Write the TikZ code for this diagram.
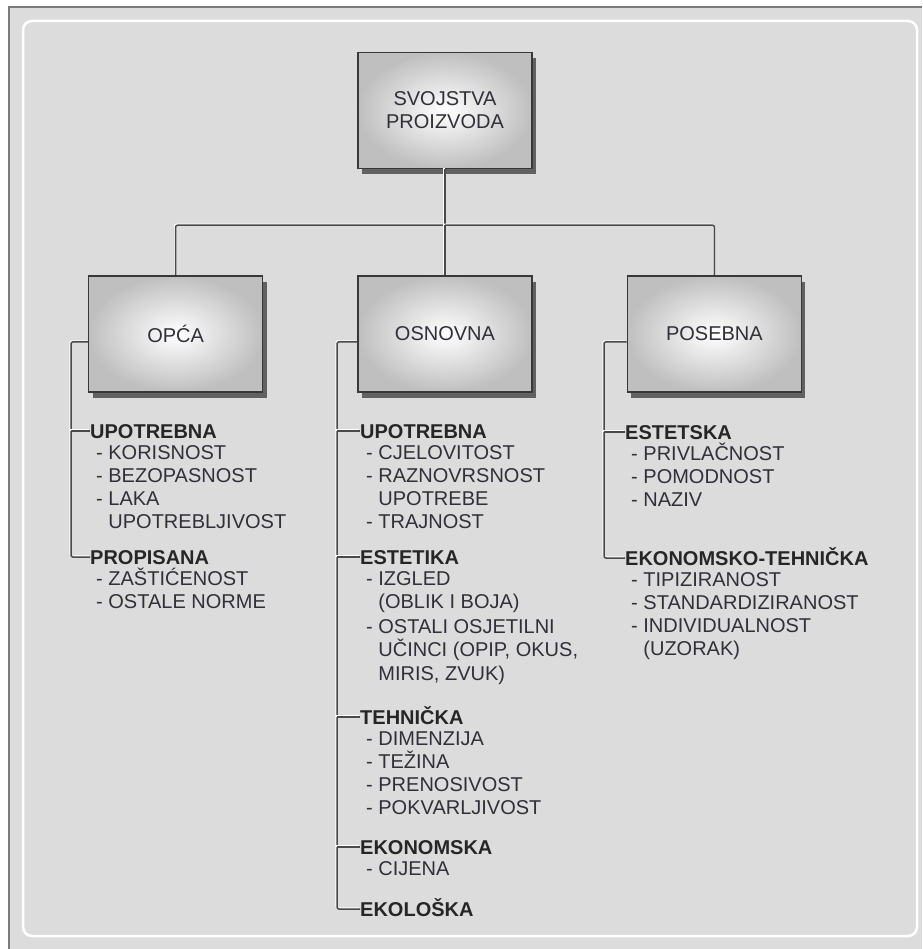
\documentclass[tikz,border=0pt]{standalone}
\usepackage{fontspec}
\setmainfont{Liberation Sans}
\usepackage{xcolor}
\usepackage{tikz}
\usetikzlibrary{shapes,positioning,shadows}

\definecolor{bggray}{HTML}{DCDCDC}
\definecolor{framegray}{HTML}{7A7A7A}
\definecolor{linegray}{HTML}{4A4A4A}
\definecolor{txtgray}{HTML}{30303A}

\newcommand{\crt}{\rule{0pt}{19pt}-\ }
\newcommand{\nst}{\rule{0pt}{19pt}\hphantom{-\ }}

\begin{document}
\begin{tikzpicture}[
    x=1pt, y=-1pt,
    node distance=106pt and 94pt,
    box/.style={rectangle, draw=black!78, line width=1.4pt, minimum width=174pt, minimum height=116pt, align=center,
        shading=radial, inner color=white, outer color=black!25,
        drop shadow={shadow xshift=4pt, shadow yshift=-6pt, opacity=1, fill=black!62},
        text=txtgray, font=\fontsize{20}{23}\selectfont},
    head/.style={anchor=west, inner sep=0pt, text height=15pt, text depth=0pt, text=black!85, font=\fontsize{20}{23}\selectfont\bfseries},
    list/.style={anchor=north west, inner sep=0pt, align=left, text=txtgray, font=\fontsize{20}{23}\selectfont},
    tree/.style={draw=linegray, line width=1.5pt, rounded corners=2pt,
        preaction={draw=white, line width=1.2pt, transform canvas={xshift=-1pt, yshift=1pt}}},
]
    \useasboundingbox (0,0) rectangle (922,949);
    \fill[white] (0,0) rectangle (922,949);
    \fill[bggray] (9,7) rectangle (922,949);
    \draw[framegray, line width=2.5pt] (9,949) -- (9,7) -- (922,7);
    \draw[white, line width=2.5pt, rounded corners=9pt] (23,21) rectangle (917,936);

    \node[box] (root) at (445,110.5) {SVOJSTVA\\PROIZVODA};
    \node[box, below=of root] (osnovna) {OSNOVNA};
    \node[box, left=of osnovna] (opca) {OPĆA};
    \node[box, right=of osnovna] (posebna) {POSEBNA};

    \node[head] (u1) at (90,431) {UPOTREBNA};
    \node[list] (u1l) at ([xshift=6pt,yshift=-2pt]u1.south west) {\crt KORISNOST\\\crt BEZOPASNOST\\\crt LAKA\\\nst UPOTREBLJIVOST};
    \node[head] (p1) at (90,557) {PROPISANA};
    \node[list] (p1l) at ([xshift=6pt,yshift=-2pt]p1.south west) {\crt ZAŠTIĆENOST\\\crt OSTALE NORME};

    \node[head] (u2) at (360,431) {UPOTREBNA};
    \node[list] (u2l) at ([xshift=6pt,yshift=-2pt]u2.south west) {\crt CJELOVITOST\\\crt RAZNOVRSNOST\\\nst UPOTREBE\\\crt TRAJNOST};
    \node[head] (e2) at (360,557) {ESTETIKA};
    \node[list] (e2l) at ([xshift=6pt,yshift=-2pt]e2.south west) {\crt IZGLED\\\nst (OBLIK I BOJA)\\\crt OSTALI OSJETILNI\\\nst UČINCI (OPIP, OKUS,\\\nst MIRIS, ZVUK)};
    \node[head] (t2) at (360,717) {TEHNIČKA};
    \node[list] (t2l) at ([xshift=6pt,yshift=-2pt]t2.south west) {\crt DIMENZIJA\\\crt TEŽINA\\\crt PRENOSIVOST\\\crt POKVARLJIVOST};
    \node[head] (k2) at (360,847) {EKONOMSKA};
    \node[list] (k2l) at ([xshift=6pt,yshift=-2pt]k2.south west) {\crt CIJENA};
    \node[head] (o2) at (360,909) {EKOLOŠKA};

    \node[head] (e3) at (625,432) {ESTETSKA};
    \node[list] (e3l) at ([xshift=6pt,yshift=-2pt]e3.south west) {\crt PRIVLAČNOST\\\crt POMODNOST\\\crt NAZIV};
    \node[head] (k3) at (625,558) {EKONOMSKO-TEHNIČKA};
    \node[list] (k3l) at ([xshift=6pt,yshift=-2pt]k3.south west) {\crt TIPIZIRANOST\\\crt STANDARDIZIRANOST\\\crt INDIVIDUALNOST\\\nst (UZORAK)};

    \draw[tree] (root.south) -- ++(0,56) coordinate (bus);
    \draw[tree] (opca.north) |- (bus) -| (posebna.north);
    \draw[tree] (bus) -- (osnovna.north);

    \draw[tree] ([yshift=-8pt]opca.west) -| ([xshift=-19pt]u1.west) |- (p1.west);
    \draw[tree] ([xshift=-19pt]u1.west) -- (u1.west);
    \draw[tree] ([yshift=-8pt]osnovna.west) -| ([xshift=-23pt]u2.west) |- (o2.west);
    \foreach \h in {u2,e2,t2,k2}
        \draw[tree] ([xshift=-23pt]\h.west) -- (\h.west);
    \draw[tree] ([yshift=-8pt]posebna.west) -| ([xshift=-21pt]e3.west) |- (k3.west);
    \draw[tree] ([xshift=-21pt]e3.west) -- (e3.west);
\end{tikzpicture}
\end{document}
